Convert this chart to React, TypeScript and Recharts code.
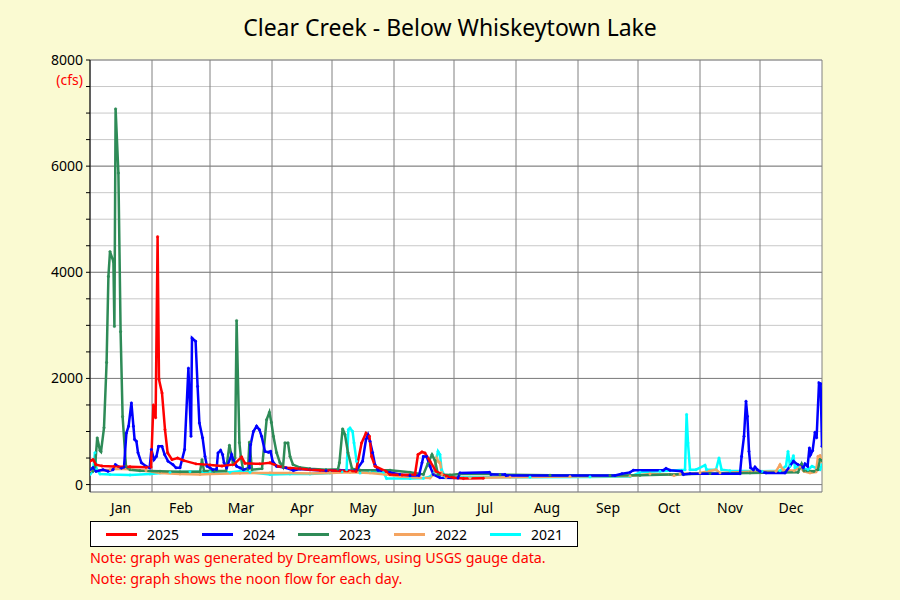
import React from "react"
import { LineChart, Line, XAxis, YAxis, CartesianGrid } from "recharts"

type Point = [number, number] // [day of year, cfs]

const MONTHS = ["Jan", "Feb", "Mar", "Apr", "May", "Jun", "Jul", "Aug", "Sep", "Oct", "Nov", "Dec"]
const MONTH_STARTS = [0, 31, 60, 91, 121, 152, 182, 213, 244, 274, 305, 335, 366]
const MONTH_MIDS = MONTHS.map((_, i) => (MONTH_STARTS[i] + MONTH_STARTS[i + 1]) / 2)

const CFS_TICKS = [0, 500, 1000, 1500, 2000, 2500, 3000, 3500, 4000, 4500, 5000, 5500, 6000, 6500, 7000, 7500, 8000]
const CFS_MAJOR = [0, 2000, 4000, 6000, 8000]
const CFS_DOMAIN: [number, number] = [-140, 8000]
const DAY_DOMAIN: [number, number] = [0, 366]

const FLOW_2025: Point[] = [
  [0, 440], [1.5, 470], [3, 375], [6, 350], [12, 340], [20, 335], [28, 325], [30.5, 330],
  [31.7, 1500], [32.8, 1260], [33.8, 4670], [34.5, 1980], [36, 1725], [37.5, 1035], [38.8, 600],
  [41, 470], [43.8, 500], [47, 450], [53, 390], [60, 370], [66, 350], [72, 380], [75.8, 520],
  [77.5, 400], [85, 390], [90, 410], [94, 345], [100, 310], [105, 300], [110, 280], [115, 270],
  [125, 260], [133, 250], [135.8, 785], [138, 970], [139.7, 910], [140.8, 530], [142.5, 345],
  [148, 250], [150, 190], [156, 180], [162.5, 190], [164, 565], [166, 615], [167.5, 595],
  [170, 440], [173, 250], [178, 160], [182, 130], [186.7, 115], [196.7, 120],
]

const FLOW_2024: Point[] = [
  [0, 280], [1.5, 320], [3, 250], [6.5, 280], [9, 250], [11.5, 280], [12.7, 375], [15.7, 310],
  [17, 330], [18.2, 970], [19.3, 1100], [20.7, 1540], [21.7, 1100], [22.3, 850], [23.2, 815],
  [24, 600], [25.7, 410], [28, 345], [29.8, 315], [30.7, 660], [32, 470], [33.2, 530], [34.3, 720],
  [36, 720], [37.3, 565], [39, 440], [41.5, 375], [43, 315], [45, 315], [47.3, 660], [49.2, 2195],
  [50.5, 910], [51, 2760], [52.8, 2700], [53.8, 1850], [54.7, 1160], [56.3, 880], [57.5, 530],
  [58.5, 345], [60, 315], [61.5, 280], [63.3, 290], [64, 595], [65.3, 645], [66.3, 565], [67, 410],
  [68.3, 315], [70.8, 565], [71.7, 470], [73.3, 345], [75, 315], [76.7, 280], [79.7, 315],
  [80.3, 750], [81.7, 1000], [83.3, 1100], [84.7, 1035], [85.8, 910], [87.5, 625], [89.2, 610],
  [90.3, 625], [91.3, 440], [93.3, 345], [98, 315], [101.7, 265], [105, 295], [110, 280],
  [118, 260], [125, 270], [133, 260], [136.3, 440], [138, 850], [139, 940], [140, 815],
  [141.3, 600], [142.5, 375], [144, 270], [150, 230], [155, 190], [160, 170], [164.5, 170],
  [166, 410], [166.7, 530], [168.3, 530], [170, 345], [171.7, 190], [175, 130], [184, 125],
  [185, 220], [199.7, 230], [200.5, 190], [207.5, 190], [208, 170], [262.5, 170], [266, 205],
  [270, 230], [271.7, 270], [286.7, 270], [288, 305], [290, 270], [295.8, 250], [296.7, 190],
  [300, 205], [325, 205], [325.8, 530], [327, 910], [328, 1570], [328.7, 1285], [329.5, 625],
  [330.3, 315], [331.7, 280], [332.5, 330], [333.7, 280], [335, 250], [338, 220], [347.5, 220],
  [351.7, 440], [354, 375], [356.7, 315], [357.5, 390], [358.8, 345], [359.7, 690], [360.3, 565],
  [361.3, 640], [362.5, 985], [363.3, 880], [364.5, 1915], [365.3, 1900], [366, 720],
]

const FLOW_2023: Point[] = [
  [0, 300], [1.5, 250], [2.5, 330], [3.6, 880], [5, 640], [5.5, 620], [7, 1070], [8.3, 2300],
  [9.2, 3920], [10, 4390], [11.7, 4200], [12.2, 2980], [12.8, 7080], [14.2, 5870], [15.3, 2880],
  [16.3, 1280], [18, 340], [20, 280], [25, 260], [35, 250], [45, 240], [55, 240], [56, 470],
  [57, 260], [62, 250], [68, 260], [69.7, 740], [71.5, 410], [72.5, 500], [73.3, 3090],
  [74.7, 790], [75.4, 530], [76.5, 290], [79, 290], [79.7, 800], [81, 280], [86, 300],
  [88.3, 1220], [89.7, 1360], [90.7, 1170], [91.7, 910], [93.3, 600], [95, 410], [96.5, 330],
  [97.5, 785], [99, 785], [100, 530], [101.5, 375], [105, 320], [110, 300], [118, 280],
  [124, 290], [124.7, 410], [126.3, 1050], [127.5, 940], [129, 600], [131, 300], [135, 270],
  [150, 270], [160, 230], [166.7, 190], [169, 400], [171, 565], [172.5, 450], [174, 190],
  [180, 180], [185, 200], [200, 200], [205, 185], [230, 175], [260, 170], [275, 175], [290, 190],
  [310, 210], [330, 220], [354, 230], [355.8, 390], [357, 260], [362, 250], [364, 280],
  [365, 470], [366, 450],
]

const FLOW_2022: Point[] = [
  [0, 260], [10, 280], [13, 300], [20, 290], [28, 260], [35, 220], [45, 200], [55, 190],
  [60, 200], [75, 215], [90, 220], [100, 220], [110, 210], [120, 220], [130, 230], [140, 220],
  [148, 190], [155, 150], [165, 130], [170, 125], [172, 200], [173.3, 500], [174.5, 420],
  [175, 410], [176, 190], [178, 130], [190, 125], [210, 140], [240, 150], [270, 160], [280, 200],
  [290, 190], [292, 170], [295, 200], [305, 220], [313, 280], [315, 220], [330, 240], [343, 250],
  [345, 375], [346.5, 280], [352, 260], [355, 330], [357, 250], [360, 220], [363, 240],
  [364, 530], [365, 545], [366, 430],
]

const FLOW_2021: Point[] = [
  [0, 190], [1.5, 250], [2.5, 600], [3.2, 300], [5, 200], [10, 190], [20, 180], [30, 200],
  [40, 230], [50, 240], [60, 240], [70, 230], [75, 250], [80, 230], [90, 190], [100, 200],
  [110, 200], [120, 220], [126, 240], [128.3, 280], [129.2, 1035], [130, 1065], [131.3, 1000],
  [132, 785], [133.3, 440], [135, 220], [140, 230], [146.7, 230], [148.3, 115], [160, 115],
  [166.7, 120], [170, 150], [172, 220], [173.3, 500], [174, 625], [175, 565], [175.8, 280],
  [177.5, 145], [190, 140], [220, 140], [250, 145], [270, 150], [275, 230], [285, 250],
  [297.5, 280], [298.3, 1320], [299, 785], [300, 280], [303, 280], [307.5, 365], [308.3, 280],
  [313, 280], [314.5, 500], [315.8, 280], [320, 260], [336, 250], [345, 260], [348, 350],
  [349, 625], [350, 345], [351.7, 545], [352.5, 315], [354, 345], [357, 300], [359, 280],
  [361, 345], [365, 280], [366, 375],
]

// legend order; drawn in reverse so 2025 ends up on top
const SERIES = [
  { year: "2025", color: "#ff0000", points: FLOW_2025 },
  { year: "2024", color: "#0000ff", points: FLOW_2024 },
  { year: "2023", color: "#2e8b57", points: FLOW_2023 },
  { year: "2022", color: "#f4a460", points: FLOW_2022 },
  { year: "2021", color: "#00ffff", points: FLOW_2021 },
]

const toRows = (pts: Point[]) => pts.map(([day, cfs]) => ({ day, cfs }))

const LegendBox = () => (
  <div
    style={{
      position: "absolute",
      left: 90,
      top: 521,
      width: 486,
      height: 24,
      background: "#fff",
      border: "1px solid #000",
    }}
  >
    {SERIES.map((s, i) => (
      <div
        key={s.year}
        style={{ position: "absolute", left: 15 + i * 96, top: 0, height: 24, display: "flex", alignItems: "center" }}
      >
        <span style={{ display: "inline-block", width: 31, height: 3, background: s.color }} />
        <span style={{ marginLeft: 10, fontSize: 14, color: "#000" }}>{s.year}</span>
      </div>
    ))}
  </div>
)

export default function App() {
  return (
    <div
      style={{
        position: "fixed",
        left: 0,
        top: 0,
        width: 900,
        height: 600,
        background: "#fafad2",
        fontFamily: "'Noto Sans', sans-serif",
        overflow: "hidden",
      }}
    >
      <div
        style={{
          position: "absolute",
          top: 14,
          left: 0,
          width: 900,
          textAlign: "center",
          fontSize: 23,
          lineHeight: "26px",
          color: "#000",
        }}
      >
        Clear Creek - Below Whiskeytown Lake
      </div>
      <div
        style={{
          position: "absolute",
          top: 71,
          right: 900 - 83,
          fontSize: 14,
          lineHeight: "18px",
          color: "#ff0000",
        }}
      >
        (cfs)
      </div>

      <LineChart width={900} height={600} margin={{ top: 60, right: 78, bottom: 78, left: 30 }}>
        <XAxis
          xAxisId="day"
          type="number"
          dataKey="day"
          domain={DAY_DOMAIN}
          allowDataOverflow
          ticks={MONTH_STARTS}
          interval={0}
          tickFormatter={() => ""}
          height={0}
          tickSize={5}
          axisLine={{ stroke: "#000" }}
          tickLine={{ stroke: "#000" }}
        />
        <XAxis
          xAxisId="month"
          type="number"
          dataKey="day"
          domain={DAY_DOMAIN}
          allowDataOverflow
          ticks={MONTH_MIDS}
          interval={0}
          tickFormatter={(v: number) => MONTHS[MONTH_MIDS.indexOf(v)] ?? ""}
          axisLine={false}
          tickLine={false}
          tickMargin={5}
          height={30}
          tick={{ fill: "#000", fontSize: 14 }}
        />
        <XAxis
          xAxisId="top"
          orientation="top"
          type="number"
          domain={DAY_DOMAIN}
          allowDataOverflow
          tick={false}
          tickLine={false}
          height={0}
          axisLine={{ stroke: "#000" }}
        />
        <YAxis
          yAxisId="cfs"
          type="number"
          domain={CFS_DOMAIN}
          allowDataOverflow
          ticks={CFS_TICKS}
          interval={0}
          tickFormatter={(v: number) => (v % 2000 === 0 ? String(v) : "")}
          width={60}
          tickSize={4}
          tickMargin={3}
          axisLine={{ stroke: "#000" }}
          tickLine={{ stroke: "#000" }}
          tick={{ fill: "#000", fontSize: 14 }}
        />
        <YAxis yAxisId="major" type="number" domain={CFS_DOMAIN} allowDataOverflow ticks={CFS_MAJOR} hide />
        <YAxis
          yAxisId="right"
          orientation="right"
          type="number"
          domain={CFS_DOMAIN}
          allowDataOverflow
          width={0}
          tick={false}
          tickLine={false}
          axisLine={{ stroke: "#000" }}
        />
        <CartesianGrid xAxisId="day" yAxisId="cfs" vertical={false} stroke="#c8c8c8" fill="#ffffff" />
        <CartesianGrid xAxisId="day" yAxisId="major" stroke="#808080" />
        {[...SERIES].reverse().map((s) => (
          <Line
            key={s.year}
            xAxisId="day"
            yAxisId="cfs"
            data={toRows(s.points)}
            dataKey="cfs"
            type="linear"
            stroke={s.color}
            strokeWidth={2.5}
            dot={{ r: 1.2, fill: s.color, stroke: s.color, strokeWidth: 0.5 }}
            isAnimationActive={false}
          />
        ))}
      </LineChart>

      <LegendBox />
      <div style={{ position: "absolute", left: 90, top: 547, fontSize: 14.3, lineHeight: "21px", color: "#ff0000" }}>
        <div>Note: graph was generated by Dreamflows, using USGS gauge data.</div>
        <div>Note: graph shows the noon flow for each day.</div>
      </div>
    </div>
  )
}
